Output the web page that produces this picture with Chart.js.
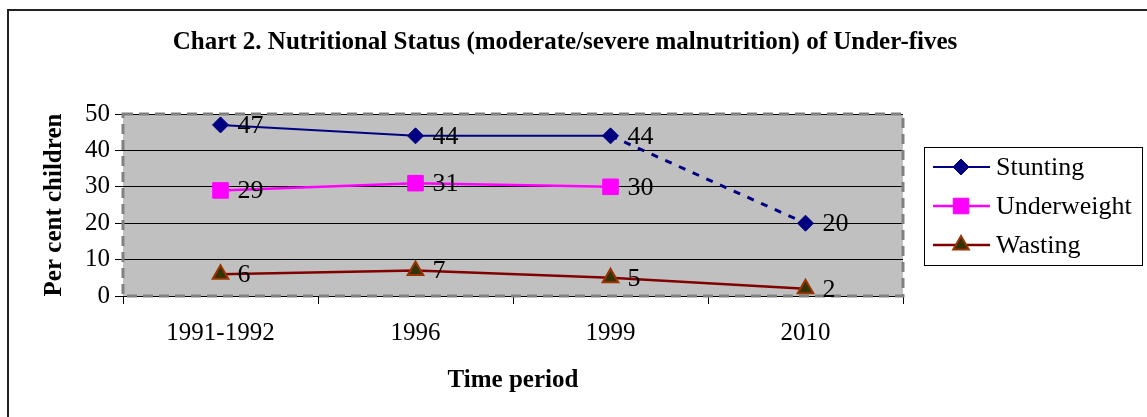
<!DOCTYPE html>
<html>
<head>
<meta charset="utf-8">
<script src="https://cdn.jsdelivr.net/npm/chart.js@4/dist/chart.umd.min.js"></script>
<style>
  html, body { margin: 0; padding: 0; background: #fff; }
  #wrap { width: 1147px; height: 417px; position: relative; }
</style>
</head>
<body>
<div id="wrap"><canvas id="nutritionChart"></canvas></div>
<script>
const periods = ['1991-1992', '1996', '1999', '2010'];
const stunting = [47, 44, 44, 20];
const underweight = [29, 31, 30, null];
const wasting = [6, 7, 5, 2];
const yTicks = [0, 10, 20, 30, 40, 50];

const serif = '"Liberation Serif", "Times New Roman", serif';

// outer frame, grey plot background, dashed plot border
const frame = {
  id: 'frame',
  beforeDraw(chart) {
    const { ctx, chartArea: a } = chart;
    ctx.save();
    ctx.fillStyle = '#fff';
    ctx.fillRect(0, 0, chart.width, chart.height);
    ctx.strokeStyle = '#222';
    ctx.lineWidth = 2;
    ctx.beginPath();
    ctx.moveTo(8, chart.height);
    ctx.lineTo(8, 10);
    ctx.lineTo(chart.width, 10);
    ctx.stroke();
    ctx.fillStyle = '#c0c0c0';
    ctx.fillRect(a.left, a.top, a.right - a.left, a.bottom - a.top);
    ctx.fillStyle = '#000';
    ctx.font = 'bold 25px ' + serif;
    ctx.textAlign = 'center';
    ctx.textBaseline = 'middle';
    ctx.fillText('Chart 2. Nutritional Status (moderate/severe malnutrition) of Under-fives', 565, 43);
    ctx.restore();
  },
  beforeDatasetsDraw(chart) {
    const { ctx, chartArea: a } = chart;
    ctx.save();
    ctx.strokeStyle = '#808080';
    ctx.lineWidth = 3;
    ctx.setLineDash([10, 6]);
    ctx.strokeRect(a.left, a.top, a.right - a.left, a.bottom - a.top);
    ctx.restore();
  }
};

// value labels next to each point, and the legend box
const labels = {
  id: 'labels',
  afterDatasetsDraw(chart) {
    const { ctx } = chart;
    ctx.save();
    ctx.fillStyle = '#000';
    ctx.font = '26px ' + serif;
    ctx.textAlign = 'left';
    ctx.textBaseline = 'middle';
    chart.data.datasets.forEach((ds, i) => {
      chart.getDatasetMeta(i).data.forEach((pt, j) => {
        if (ds.data[j] == null) return;
        ctx.fillText(String(ds.data[j]), pt.x + 17, pt.y + 1);
      });
    });

    // legend
    ctx.strokeStyle = '#000';
    ctx.lineWidth = 1;
    ctx.strokeRect(924.5, 147.5, 218, 118);
    chart.data.datasets.forEach((ds, i) => {
      const y = 167 + i * 39;
      ctx.strokeStyle = ds.borderColor;
      ctx.lineWidth = ds.borderWidth;
      ctx.beginPath();
      ctx.moveTo(933, y);
      ctx.lineTo(990, y);
      ctx.stroke();
      ctx.fillStyle = ds.pointBackgroundColor;
      ctx.strokeStyle = ds.pointBorderColor;
      ctx.lineWidth = ds.pointBorderWidth;
      Chart.helpers.drawPoint(ctx, {
        pointStyle: ds.pointStyle,
        radius: ds.pointRadius,
        borderWidth: ds.pointBorderWidth
      }, 961, y);
      ctx.fillStyle = '#000';
      ctx.font = '26px ' + serif;
      ctx.fillText(ds.label, 996, y + 1);
    });
    ctx.restore();
  }
};

new Chart(document.getElementById('nutritionChart'), {
  type: 'line',
  data: {
    labels: periods,
    datasets: [
      {
        label: 'Stunting',
        data: stunting,
        borderColor: '#000080',
        borderWidth: 2,
        pointStyle: 'rectRot',
        pointRadius: 8,
        pointBackgroundColor: '#000080',
        pointBorderColor: '#000080',
        pointBorderWidth: 1,
        segment: {
          borderDash: c => c.p0DataIndex === 2 ? [7, 8] : undefined,
          borderWidth: c => c.p0DataIndex === 2 ? 3 : 2
        }
      },
      {
        label: 'Underweight',
        data: underweight,
        borderColor: '#ff00ff',
        borderWidth: 2.5,
        pointStyle: 'rect',
        pointRadius: 11,
        pointBackgroundColor: '#ff00ff',
        pointBorderColor: '#ff00ff',
        pointBorderWidth: 1
      },
      {
        label: 'Wasting',
        data: wasting,
        borderColor: '#800000',
        borderWidth: 2.5,
        pointStyle: 'triangle',
        pointRadius: 9,
        pointBackgroundColor: '#333300',
        pointBorderColor: '#993300',
        pointBorderWidth: 2
      }
    ]
  },
  options: {
    responsive: true,
    maintainAspectRatio: false,
    animation: false,
    layout: { padding: { top: 114, right: 244, left: 0, bottom: 0 } },
    plugins: {
      legend: { display: false },
      title: { display: false },
      tooltip: { enabled: false }
    },
    scales: {
      x: {
        offset: true,
        afterFit: s => { s.height = 121; },
        grid: {
          offset: true,
          drawOnChartArea: false,
          drawTicks: true,
          tickLength: 8,
          color: '#000'
        },
        border: { display: false },
        ticks: {
          color: '#000',
          padding: 14,
          font: { family: serif, size: 25 }
        },
        title: {
          display: true,
          text: 'Time period',
          color: '#000',
          font: { family: serif, size: 25, weight: 'bold' },
          padding: { top: 0, bottom: 21 }
        }
      },
      y: {
        min: 0,
        max: 50,
        afterFit: s => { s.width = 123; },
        afterBuildTicks: s => { s.ticks = yTicks.map(v => ({ value: v })); },
        grid: {
          color: '#000',
          lineWidth: 1,
          tickLength: 8
        },
        border: { display: false },
        ticks: {
          color: '#000',
          padding: 5,
          font: { family: serif, size: 25 }
        },
        title: {
          display: true,
          text: 'Per cent children',
          color: '#000',
          font: { family: serif, size: 25, weight: 'bold' },
          padding: { top: 40, bottom: 0 }
        }
      }
    }
  },
  plugins: [frame, labels]
});
</script>
</body>
</html>
